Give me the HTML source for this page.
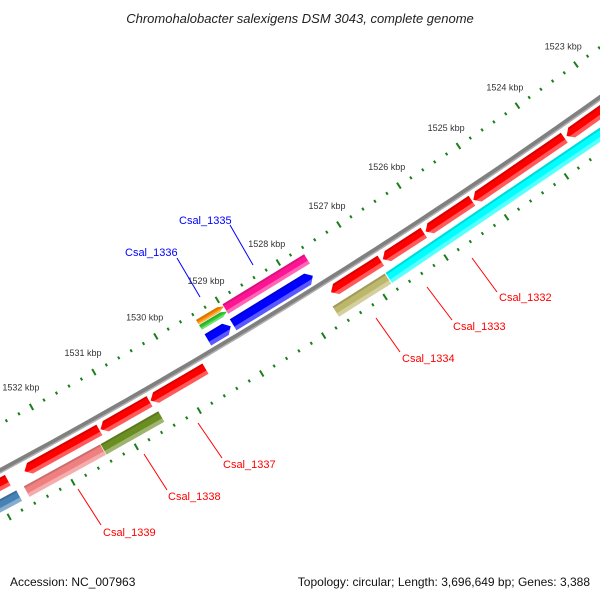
<!DOCTYPE html>
<html><head><meta charset="utf-8"><style>
html,body{margin:0;padding:0;background:#fff;}
svg{display:block;font-family:"Liberation Sans",sans-serif;}
</style></head><body>
<svg id="map" width="600" height="600" viewBox="0 0 600 600" xmlns="http://www.w3.org/2000/svg">
<rect width="600" height="600" fill="#fff"/>
<text x="300" y="23" text-anchor="middle" font-size="13" font-style="italic" fill="#222">Chromohalobacter salexigens DSM 3043, complete genome</text>
<text x="10" y="586" font-size="12" fill="#111">Accession: NC_007963</text>
<text x="590" y="586" text-anchor="end" font-size="12" fill="#111">Topology: circular; Length: 3,696,649 bp; Genes: 3,388</text>
<g id="layer"></g>
</svg>
<script>
// ---- data ----
const geneNames  = ["r1","r2","r3","r4","r5","r6","r7","r8","r9","cyan1","olive1","olivegreen1","salmon1","steel1","pink1335","orange1336","green1336","blue1","blue2"];
const geneStarts = [1522800,1523720,1525270,1526070,1526780,1529633,1530530,1531330,1532778,1522800,1526830,1530494,1531420,1532740,1527633,1528970,1528970,1527690,1529030];
const geneEnds   = [1523680,1525247,1526040,1526747,1527597,1530512,1531312,1532514,1533400,1526815,1527683,1531411,1532623,1533400,1528970,1529400,1529400,1528990,1529400];
const geneStrand = [1,1,1,1,1,1,1,1,1,0,0,0,0,0,0,-1,-1,-1,-1];
const geneTrack  = ["fwd","fwd","fwd","fwd","fwd","fwd","fwd","fwd","fwd","fwd2","fwd2","fwd2","fwd2","fwd2","rev2","rev2a","rev2b","rev1","rev1"];
const geneColors = ["#ff0000","#ff0000","#ff0000","#ff0000","#ff0000","#ff0000","#ff0000","#ff0000","#ff0000","#00ffff","#bdb76b","#6b8e23","#f08080","#4682b4","#ff1493","#ff8c00","#32cd32","#0000ff","#0000ff"];
const majorTicks = [1521000,1522000,1523000,1524000,1525000,1526000,1527000,1528000,1529000,1530000,1531000,1532000,1533000,1534000];
const tickLabels = ["1521 kbp","1522 kbp","1523 kbp","1524 kbp","1525 kbp","1526 kbp","1527 kbp","1528 kbp","1529 kbp","1530 kbp","1531 kbp","1532 kbp","1533 kbp","1534 kbp"];
const minorStep = 200;
// gene labels: name, gene index, label position
const labelText  = ["Csal_1332","Csal_1333","Csal_1334","Csal_1337","Csal_1338","Csal_1339","Csal_1335","Csal_1336"];
const labelColor = ["#f00","#f00","#f00","#f00","#f00","#f00","#00f","#00f"];

// ---- geometry (circle axis) ----
const CX=-2651, CY=-4462, R0=5600;
const A0=58.2*Math.PI/180, K=0.737*Math.PI/180/1000;
function ang(bp){return A0+(bp-1528000)*K;}
function pt(bp,r){const a=ang(bp);return [CX+r*Math.cos(a),CY+r*Math.sin(a)];}
const trackR={fwd:R0+12,fwd2:R0+31,rev1:R0-11.5,rev2:R0-29,rev2a:R0-32,rev2b:R0-26};
const trackW={fwd:12,fwd2:12,rev1:13,rev2:11,rev2a:5.5,rev2b:5.5};
const NS="http://www.w3.org/2000/svg";
const layer=document.getElementById('layer');
function mk(tag,attrs){const e=document.createElementNS(NS,tag);for(const k in attrs)e.setAttribute(k,attrs[k]);layer.appendChild(e);return e;}
const AH=85;
function shape(s,e,r1,r2,rm,hw,strand){
  const P=[];
  const endAt=(r)=>strand===1?e-AH*Math.abs(r-rm)/hw:e;
  const startAt=(r)=>strand===-1?s+AH*Math.abs(r-rm)/hw:s;
  P.push(pt(startAt(r1),r1));P.push(pt(endAt(r1),r1));
  if(strand===1&&rm>r1&&rm<r2)P.push(pt(e,rm));
  P.push(pt(endAt(r2),r2));P.push(pt(startAt(r2),r2));
  if(strand===-1&&rm>r1&&rm<r2)P.push(pt(s,rm));
  return P.map(p=>p[0].toFixed(1)+","+p[1].toFixed(1)).join(" ");
}
function arcPath(b1,b2,r){let d="";for(let b=b1;b<=b2;b+=250){const p=pt(b,r);d+=(d?"L":"M")+p[0].toFixed(1)+","+p[1].toFixed(1);}return d;}

// backbone
let bb=mk('path',{d:arcPath(1519000,1537000,R0),stroke:"#808080","stroke-width":5,fill:"none"});


let bb2=mk('path',{d:arcPath(1519000,1537000,R0+2),stroke:"#b0b0b0","stroke-width":1.5,fill:"none"});



// ticks
for(let b=1520000;b<=1535000;b+=minorStep){
  const major=(b%1000===0);
  const len=major?7:3;
  [R0-41,R0+45].forEach((rc,i)=>{
    const p1=pt(b,rc-len/2),p2=pt(b,rc+len/2);
    const t=mk('line',{x1:p1[0],y1:p1[1],x2:p2[0],y2:p2[1],stroke:"#1a7f1a","stroke-width":major?2:2});
    
    
  });
}
majorTicks.forEach((b,i)=>{
  const p=pt(b,R0-63);
  const t=mk('text',{x:p[0].toFixed(1),y:(p[1]+3).toFixed(1),"text-anchor":"middle","font-size":"9",fill:"#333"});
  t.textContent=tickLabels[i];
  
  
});

// genes
geneStarts.forEach((s,i)=>{
  const e=geneEnds[i],r=trackR[geneTrack[i]],w=trackW[geneTrack[i]],hw=w/2,st=geneStrand[i];
  const g=mk('polygon',{points:shape(s,e,r-hw,r+hw,r,hw,st),fill:geneColors[i]});
  
  
  const lt=mk('polygon',{points:shape(s,e,r+hw/3,r+hw,r,hw,st),fill:"#fff","fill-opacity":"0.35"});
  
  
  const dk=mk('polygon',{points:shape(s,e,r-hw,r-hw+2,r,hw,st),fill:"#000","fill-opacity":"0.15"});
  
  
});

// gene labels
const labelPos=[[499,301],[453,330],[402,362],[223,468],[168,500],[103,536],[179,224],[125,256]];
const lineFrom=[[472,258],[427,287],[376,318],[198,423],[144,454],[78,489],[230,225],[177,258]];
const lineTo=[[497,292],[452,320],[400,352],[222,458],[167,490],[101,525],[253,265],[200,297]];
labelText.forEach((t,i)=>{
  const l=mk('line',{x1:lineFrom[i][0],y1:lineFrom[i][1],x2:lineTo[i][0],y2:lineTo[i][1],stroke:labelColor[i],"stroke-width":1});
  
  
  const tx=mk('text',{x:labelPos[i][0],y:labelPos[i][1],"font-size":"11",fill:labelColor[i]});
  tx.textContent=t;
  
  
});
</script>
</body></html>
